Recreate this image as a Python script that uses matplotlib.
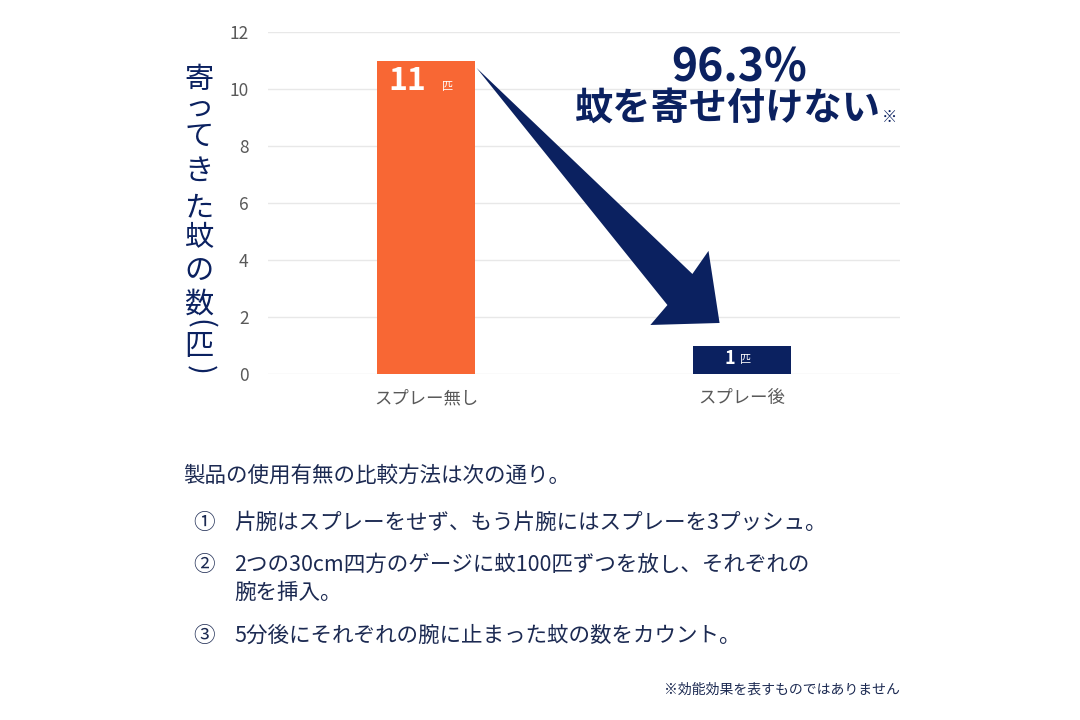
import numpy as np
import matplotlib.pyplot as plt
from matplotlib.patches import Polygon

plt.rcParams['font.family'] = ['Noto Sans CJK JP', 'DejaVu Sans']

categories = ['スプレー無し', 'スプレー後']
counts = [11, 1]
bar_colors = ['#F86734', '#0B2160']
yticks = [0, 2, 4, 6, 8, 10, 12]

# vertical label; parentheses get turned on their side
ylabel_chars = ['寄', 'っ', 'て', 'き', 'た', '蚊', 'の', '数', '(', '匹', ')']
ylabel_y = [80, 108, 137, 172, 208, 238, 272, 305, 324, 347, 370]

headline = '96.3%'
subline = '蚊を寄せ付けない'

intro = '製品の使用有無の比較方法は次の通り。'
steps = [
    ('①', ['片腕はスプレーをせず、もう片腕にはスプレーを3プッシュ。']),
    ('②', ['2つの30cm四方のゲージに蚊100匹ずつを放し、それぞれの', '腕を挿入。']),
    ('③', ['5分後にそれぞれの腕に止まった蚊の数をカウント。']),
]
footnote = '※効能効果を表すものではありません'

# arrow outline in data units (tail near top of first bar, head above second)
arrow_x = [0.160, 0.764, 0.710, 0.929, 0.894, 0.843]
arrow_y = [10.74, 2.42, 1.72, 1.79, 4.32, 3.51]

NAVY = '#0B2160'
GRAY = '#595959'
TXT = '#1C2A52'
W, H = 1080, 720


def fx(px):
    return px / W


def fy(py):
    return 1 - py / H


fig = plt.figure(figsize=(10.8, 7.2), dpi=100)
ax = fig.add_axes([fx(268), fy(374), fx(900) - fx(268), fy(32) - fy(374)])

x = np.arange(len(categories))
ax.bar(x, counts, width=0.313, color=bar_colors, zorder=2)
ax.set_xlim(-0.5, 1.5)
ax.set_ylim(0, 12)
ax.set_yticks(yticks)
ax.set_xticks(x)
ax.set_xticklabels(categories, fontsize=12.5, color=GRAY)
ax.tick_params(axis='y', labelsize=12.5, labelcolor=GRAY, length=0, pad=14)
ax.tick_params(axis='x', length=0, pad=11)
ax.grid(axis='y', color='#E8E8E8', linewidth=1, zorder=0)
for s in ax.spines.values():
    s.set_visible(False)

# arrow
ax.add_patch(Polygon(np.column_stack([arrow_x, arrow_y]), closed=True,
                     facecolor=NAVY, edgecolor='none', zorder=3))

# bar value labels
ax.text(x[0] - 0.059, counts[0] - 0.72, str(counts[0]), color='white',
        fontsize=23, fontweight='bold', ha='center', va='center', zorder=4)
ax.text(x[0] + 0.068, counts[0] - 0.93, '匹', color='white',
        fontsize=8, ha='center', va='center', zorder=4)
ax.text(x[1] - 0.040, counts[1] - 0.44, str(counts[1]), color='white',
        fontsize=13, fontweight='bold', ha='center', va='center', zorder=4)
ax.text(x[1] + 0.012, counts[1] - 0.50, '匹', color='white',
        fontsize=8, ha='center', va='center', zorder=4)

# vertical y label
for ch, py in zip(ylabel_chars, ylabel_y):
    rot = -90 if ch in '()' else 0
    fig.text(fx(199), fy(py), ch, fontsize=21, color=NAVY, rotation=rot,
             ha='center', va='center')

# headline
fig.text(fx(739), fy(69), headline, fontsize=32, fontweight='bold',
         color=NAVY, ha='center', va='center')
fig.text(fx(728), fy(108), subline, fontsize=27.5, fontweight='bold',
         color=NAVY, ha='center', va='center')
fig.text(fx(889), fy(117), '※', fontsize=11, color=NAVY,
         ha='center', va='center')

# description
fig.text(fx(183), fy(476), intro, fontsize=15.5, color=TXT, va='center')
row_y = [523, 565, 636]
for (num, lines), py in zip(steps, row_y):
    fig.text(fx(193), fy(py), num, fontsize=15.5, color=TXT, va='center')
    for i, line in enumerate(lines):
        fig.text(fx(234), fy(py + 28 * i), line, fontsize=15.5, color=TXT,
                 va='center')

fig.text(fx(900), fy(690), footnote, fontsize=10, color=TXT,
         ha='right', va='center')

fig.savefig('out.png', dpi=100, facecolor='white')
